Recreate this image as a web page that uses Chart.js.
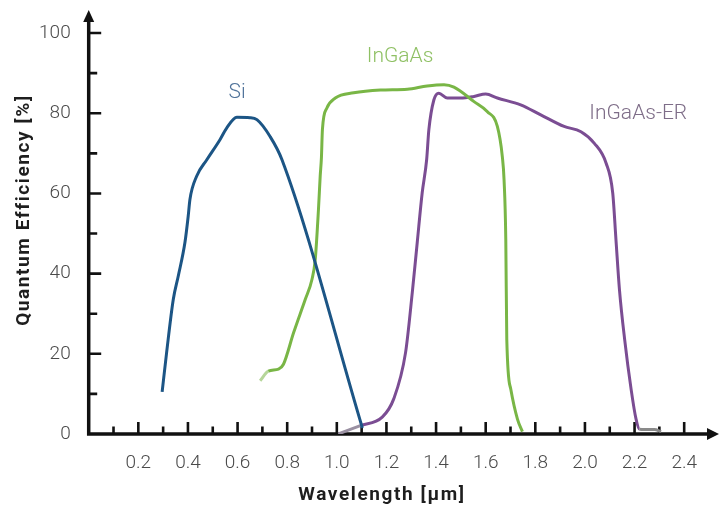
<!DOCTYPE html>
<html>
<head>
<meta charset="utf-8">
<script src="https://cdn.jsdelivr.net/npm/chart.js@4.4.1/dist/chart.umd.min.js"></script>
<style>
  html, body { margin: 0; padding: 0; background: #fff; }
  #wrap { width: 723px; height: 506px; position: relative; }
</style>
</head>
<body>
<div id="wrap"><canvas id="qeChart"></canvas></div>
<script>
// wavelength [um] / quantum efficiency [%]
const siX = [0.296, 0.314, 0.341, 0.361, 0.388, 0.401, 0.408, 0.435, 0.476, 0.529, 0.556, 0.597, 0.650, 0.678, 0.731, 0.779, 1.103];
const siY = [10.5, 20.3, 33.6, 39.4, 47.8, 54.3, 58.5, 64.3, 68.4, 73.4, 76.3, 79.0, 78.9, 78.4, 74.2, 68.4, 1.5];

const ingaasX = [0.691, 0.724, 0.765, 0.785, 0.826, 0.873, 0.900, 0.913, 0.926, 0.933, 0.938, 0.942, 0.960, 0.994, 1.068, 1.176, 1.284, 1.364, 1.432, 1.472, 1.553, 1.607, 1.647, 1.667, 1.674, 1.681, 1.685, 1.701, 1.728, 1.748];
const ingaasY = [13.3, 15.7, 16.2, 17.4, 25.3, 33.6, 38.6, 43.5, 56.0, 64.3, 69.0, 76.0, 81.3, 83.8, 85.1, 85.8, 86.0, 86.8, 87.1, 86.5, 82.9, 80.4, 76.7, 69.2, 63.4, 48.5, 23.6, 11.2, 3.7, 0.6];

const erX = [1.006, 1.095, 1.183, 1.229, 1.277, 1.304, 1.324, 1.344, 1.362, 1.371, 1.391, 1.411, 1.445, 1.499, 1.553, 1.600, 1.647, 1.741, 1.822, 1.916, 1.984, 2.038, 2.085, 2.112, 2.125, 2.139, 2.160, 2.186, 2.206, 2.220, 2.280, 2.307];
const erY = [0, 2.1, 4.2, 8.7, 20.3, 35.2, 47.7, 60.1, 68.4, 75.9, 83.3, 85.0, 83.8, 83.8, 84.2, 84.8, 83.8, 82.1, 79.6, 76.7, 75.4, 72.5, 67.6, 60.1, 48.5, 36.1, 23.6, 11.2, 3.7, 1.2, 1.1, 0.6];

const seriesNames = ["Si", "InGaAs", "InGaAs-ER"];

const xTicks = [0.2, 0.4, 0.6, 0.8, 1.0, 1.2, 1.4, 1.6, 1.8, 2.0, 2.2, 2.4];
const xTickLabels = ["0.2", "0.4", "0.6", "0.8", "1.0", "1.2", "1.4", "1.6", "1.8", "2.0", "2.2", "2.4"];
const xMinorTicks = [0.1, 0.3, 0.5, 0.7, 0.9, 1.1, 1.3, 1.5, 1.7, 1.9, 2.1, 2.3];
const yTicks = [0, 20, 40, 60, 80, 100];
const yTickLabels = ["0", "20", "40", "60", "80", "100"];
const yMinorTicks = [10, 30, 50, 70, 90];

const toPoints = (xs, ys) => xs.map((x, i) => ({ x: x, y: ys[i] }));

// where the curve names sit, in data units
const nameSpots = [
  { text: seriesNames[0], x: 0.598, y: 85.1, color: "#50739a" },
  { text: seriesNames[1], x: 1.255, y: 94.1, color: "#8fc064" },
  { text: seriesNames[2], x: 2.215, y: 79.9, color: "#7e6d88" },
];

const axesPlugin = {
  id: "arrowAxes",
  beforeDatasetsDraw(chart) {
    const { ctx, chartArea, scales } = chart;
    const x0 = chartArea.left, y0 = scales.y.getPixelForValue(0);
    ctx.save();
    ctx.strokeStyle = "#111";
    ctx.fillStyle = "#111";
    ctx.lineCap = "butt";

    ctx.lineWidth = 3.5;
    ctx.beginPath();
    ctx.moveTo(x0, y0);
    ctx.lineTo(chartArea.right + 2, y0);
    ctx.moveTo(x0, y0 + 1.75);
    ctx.lineTo(x0, chartArea.top + 8);
    ctx.stroke();

    // arrow heads
    ctx.beginPath();
    ctx.moveTo(chartArea.right + 10, y0);
    ctx.lineTo(chartArea.right - 2, y0 - 6);
    ctx.lineTo(chartArea.right - 2, y0 + 6);
    ctx.closePath();
    ctx.fill();
    ctx.beginPath();
    ctx.moveTo(x0, chartArea.top - 3);
    ctx.lineTo(x0 - 5.5, chartArea.top + 9);
    ctx.lineTo(x0 + 5.5, chartArea.top + 9);
    ctx.closePath();
    ctx.fill();

    ctx.lineWidth = 2.6;
    ctx.beginPath();
    xTicks.forEach((v) => {
      const px = scales.x.getPixelForValue(v);
      ctx.moveTo(px, y0);
      ctx.lineTo(px, y0 - 12);
    });
    xMinorTicks.forEach((v) => {
      const px = scales.x.getPixelForValue(v);
      ctx.moveTo(px, y0);
      ctx.lineTo(px, y0 - 7.5);
    });
    yTicks.forEach((v) => {
      if (v === 0) return;
      const py = scales.y.getPixelForValue(v);
      ctx.moveTo(x0, py);
      ctx.lineTo(x0 + 12.5, py);
    });
    yMinorTicks.forEach((v) => {
      const py = scales.y.getPixelForValue(v);
      ctx.moveTo(x0, py);
      ctx.lineTo(x0 + 8.5, py);
    });
    ctx.stroke();
    ctx.restore();
  },
  afterDraw(chart) {
    const { ctx, scales } = chart;
    ctx.save();
    ctx.textAlign = "center";
    ctx.textBaseline = "middle";
    ctx.font = "300 21px Roboto";
    nameSpots.forEach((n) => {
      ctx.fillStyle = n.color;
      ctx.fillText(n.text, scales.x.getPixelForValue(n.x), scales.y.getPixelForValue(n.y));
    });

    ctx.fillStyle = "#1e1e1e";
    ctx.font = "bold 19px Roboto";
    ctx.letterSpacing = "1.6px";
    ctx.fillText("Wavelength [\u00b5m]", 382, 495);
    ctx.translate(24, 210);
    ctx.rotate(-Math.PI / 2);
    ctx.fillText("Quantum Efficiency [%]", 0, 0);
    ctx.restore();
  },
};

const lineStyle = {
  fill: false,
  borderWidth: 3,
  pointRadius: 0,
  cubicInterpolationMode: "monotone",
};

new Chart(document.getElementById("qeChart"), {
  type: "line",
  data: {
    datasets: [
      Object.assign({ label: seriesNames[0], data: toPoints(siX, siY), borderColor: "#1c5585" }, lineStyle),
      Object.assign({
        label: seriesNames[1],
        data: toPoints(ingaasX, ingaasY),
        borderColor: "#79b646",
        segment: { borderColor: (c) => (c.p0DataIndex === 0 ? "#b6d69a" : undefined) },
      }, lineStyle),
      Object.assign({
        label: seriesNames[2],
        data: toPoints(erX, erY),
        borderColor: "#7b4d93",
        segment: {
          borderColor: (c) => {
            if (c.p0DataIndex === 0) return "#9a90a2";
            if (c.p0.parsed.x >= 2.215) return "#8a8a8a";
            return undefined;
          },
        },
      }, lineStyle),
    ],
  },
  options: {
    responsive: true,
    maintainAspectRatio: false,
    animation: false,
    layout: { padding: { left: 0, right: 14, top: 13, bottom: 0 } },
    plugins: { legend: { display: false }, tooltip: { enabled: false } },
    scales: {
      x: {
        type: "linear",
        min: 0,
        max: 2.5,
        grid: { display: false },
        border: { display: false },
        afterBuildTicks: (scale) => { scale.ticks = xTicks.map((v) => ({ value: v })); },
        afterFit: (scale) => { scale.height = 72; scale.paddingLeft = 0; scale.paddingRight = 0; },
        ticks: {
          autoSkip: false,
          maxRotation: 0,
          padding: 10,
          color: "#4a4a4a",
          font: { family: "Roboto", size: 19, weight: "300" },
          callback: (value, index) => xTickLabels[index],
        },
      },
      y: {
        min: 0,
        max: 105,
        grid: { display: false },
        border: { display: false },
        afterBuildTicks: (scale) => { scale.ticks = yTicks.map((v) => ({ value: v })); },
        afterFit: (scale) => { scale.width = 88.7; scale.paddingTop = 0; scale.paddingBottom = 0; },
        ticks: {
          padding: 10,
          color: "#4a4a4a",
          font: { family: "Roboto", size: 19, weight: "300" },
          callback: (value, index) => yTickLabels[index],
        },
      },
    },
  },
  plugins: [axesPlugin],
});
</script>
</body>
</html>
